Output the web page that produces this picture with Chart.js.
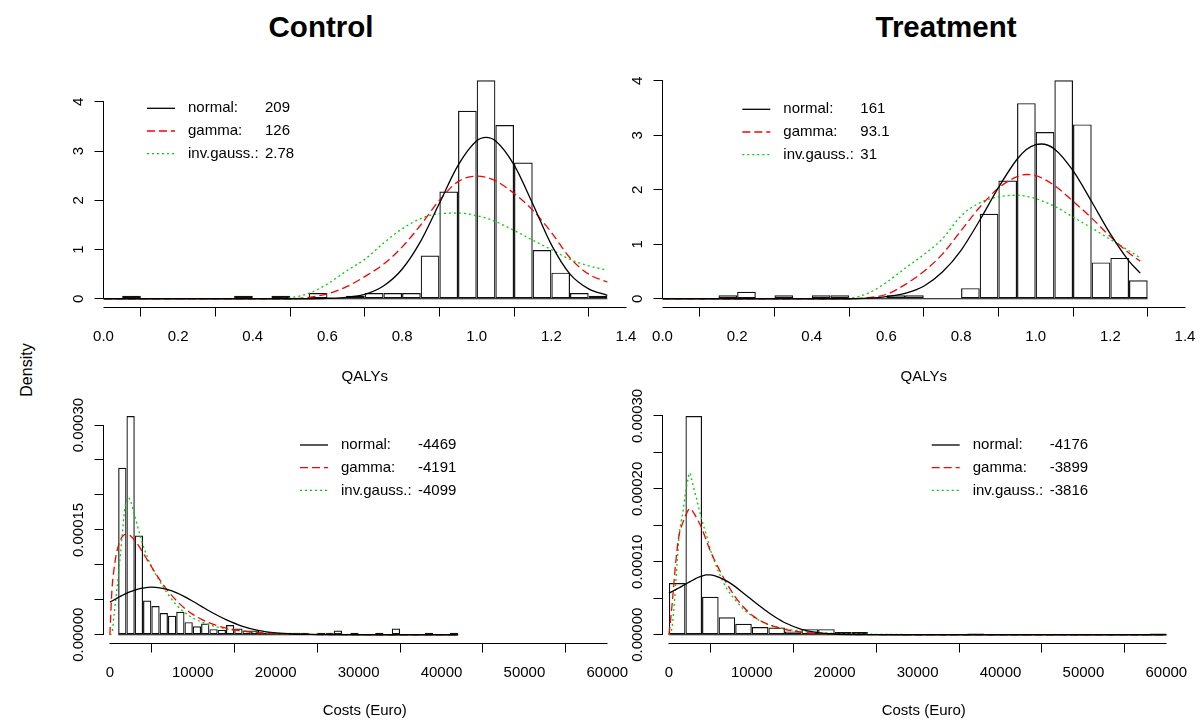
<!DOCTYPE html>
<html>
<head>
<meta charset="utf-8">
<title>QALYs and costs: Control vs Treatment</title>
<script src="https://cdn.jsdelivr.net/npm/chart.js@4.4.1/dist/chart.umd.min.js"></script>
<style>
  html, body { margin: 0; padding: 0; background: #fff; overflow: hidden; }
  #page { position: relative; width: 1204px; height: 720px; overflow: hidden; font-family: "Liberation Sans", Arial, sans-serif; color: #000; }
  #page canvas { position: absolute; }
  .col-title { position: absolute; top: 27px; transform: translate(-50%, -50%); font-size: 29.5px; font-weight: bold; white-space: nowrap; }
  #density { position: absolute; left: 27px; top: 370px; transform: translate(-50%, -50%) rotate(-90deg); font-size: 16px; white-space: nowrap; }
</style>
</head>
<body>
<div id="page">
  <div class="col-title" style="left:321px">Control</div>
  <div class="col-title" style="left:946px">Treatment</div>
  <div id="density">Density</div>
  <canvas id="ctrlQaly" width="700" height="392" style="left:0;top:0"></canvas>
  <canvas id="trtQaly" width="700" height="392" style="left:559px;top:0"></canvas>
  <canvas id="ctrlCost" width="700" height="390" style="left:0;top:330px"></canvas>
  <canvas id="trtCost" width="700" height="390" style="left:559px;top:330px"></canvas>
</div>
<script>
// axis ticks
const qalyTicks = [0, 0.2, 0.4, 0.6, 0.8, 1.0, 1.2, 1.4];
const qalyTickLabels = ['0.0', '0.2', '0.4', '0.6', '0.8', '1.0', '1.2', '1.4'];
const costTicks = [0, 10000, 20000, 30000, 40000, 50000, 60000];
const costTickLabels = ['0', '10000', '20000', '30000', '40000', '50000', '60000'];
const qalyDensTicks = [0, 1, 2, 3, 4];
const qalyDensLabels = ['0', '1', '2', '3', '4'];
const costDensTicks = [0, 0.00005, 0.0001, 0.00015, 0.0002, 0.00025, 0.0003];
const ctrlCostDensLabels = ['0.00000', '', '', '0.00015', '', '', '0.00030'];
const trtCostDensLabels = ['0.00000', '', '0.00010', '', '0.00020', '', '0.00030'];

// legend
const fitNames = ['normal:', 'gamma:', 'inv.gauss.:'];
const ctrlQalyFit = ['209', '126', '2.78'];
const trtQalyFit = ['161', '93.1', '31'];
const ctrlCostFit = ['-4469', '-4191', '-4099'];
const trtCostFit = ['-4176', '-3899', '-3816'];

// Control QALYs: histogram (left edge of each 0.05 bin) and fitted curves
const ctrlQalyBins = [0.00, 0.05, 0.10, 0.15, 0.20, 0.25, 0.30, 0.35, 0.40, 0.45, 0.50, 0.55, 0.60, 0.65,
  0.70, 0.75, 0.80, 0.85, 0.90, 0.95, 1.00, 1.05, 1.10, 1.15, 1.20, 1.25, 1.30];
const ctrlQalyDens = [0, 0.059, 0, 0, 0, 0, 0, 0.059, 0, 0.059, 0, 0.118, 0, 0.059,
  0.118, 0.118, 0.118, 0.88, 2.18, 3.82, 4.44, 3.53, 2.77, 0.99, 0.53, 0.118, 0.059];
const ctrlQalyX = [0, 0.05, 0.1, 0.15, 0.2, 0.25, 0.3, 0.35, 0.4, 0.45, 0.5, 0.55, 0.6, 0.65, 0.7, 0.75,
  0.8, 0.85, 0.9, 0.95, 1.0, 1.025, 1.05, 1.1, 1.15, 1.2, 1.25, 1.3, 1.35];
const ctrlQalyNormal = [0, 0, 0, 0, 0, 0, 0, 0, 0, 0, 0, 0, 0.01, 0.03, 0.09, 0.26,
  0.6, 1.17, 1.94, 2.71, 3.21, 3.28, 3.21, 2.72, 1.93, 1.1, 0.5, 0.2, 0.07];
const ctrlQalyGamma = [0, 0, 0, 0, 0, 0, 0, 0, 0, 0, 0, 0.03, 0.1, 0.24, 0.45, 0.7,
  1.05, 1.5, 2.0, 2.38, 2.49, 2.47, 2.4, 2.14, 1.8, 1.35, 0.83, 0.5, 0.34];
const ctrlQalyInvGauss = [0, 0, 0, 0, 0, 0, 0, 0, 0, 0, 0.02, 0.11, 0.3, 0.56, 0.8, 1.13,
  1.42, 1.63, 1.73, 1.74, 1.69, 1.64, 1.57, 1.39, 1.19, 1.0, 0.8, 0.67, 0.58];

// Treatment QALYs
const trtQalyBins = [0.00, 0.05, 0.10, 0.15, 0.20, 0.25, 0.30, 0.35, 0.40, 0.45, 0.50, 0.55, 0.60,
  0.65, 0.70, 0.75, 0.80, 0.85, 0.90, 0.95, 1.00, 1.05, 1.10, 1.15, 1.20, 1.25];
const trtQalyDens = [0, 0, 0, 0.065, 0.13, 0, 0.065, 0, 0.065, 0.065, 0, 0, 0.065,
  0.065, 0, 0, 0.195, 1.56, 2.17, 3.59, 3.06, 4.01, 3.2, 0.667, 0.75, 0.34];
const trtQalyX = [0, 0.05, 0.1, 0.15, 0.2, 0.25, 0.3, 0.35, 0.4, 0.45, 0.5, 0.55, 0.6, 0.65, 0.7, 0.75,
  0.8, 0.85, 0.9, 0.95, 0.975, 1.0, 1.015, 1.05, 1.1, 1.15, 1.2, 1.25, 1.28];
const trtQalyNormal = [0, 0, 0, 0, 0, 0, 0, 0, 0, 0, 0, 0.01, 0.04, 0.1, 0.23, 0.49,
  0.89, 1.44, 2.04, 2.56, 2.74, 2.83, 2.84, 2.75, 2.35, 1.78, 1.19, 0.69, 0.47];
const trtQalyGamma = [0, 0, 0, 0, 0, 0, 0, 0, 0, 0, 0, 0.02, 0.08, 0.26, 0.5, 0.82,
  1.25, 1.68, 2.03, 2.24, 2.28, 2.26, 2.22, 2.08, 1.79, 1.48, 1.14, 0.84, 0.69];
const trtQalyInvGauss = [0, 0, 0, 0, 0, 0, 0, 0, 0, 0, 0.01, 0.1, 0.3, 0.56, 0.81, 1.1,
  1.52, 1.76, 1.87, 1.9, 1.88, 1.84, 1.8, 1.7, 1.5, 1.3, 1.09, 0.88, 0.75];

// Control costs: 1000-euro bins
const ctrlCostBins = [1000, 2000, 3000, 4000, 5000, 6000, 7000, 8000, 9000, 10000, 11000, 12000, 13000, 14000,
  15000, 16000, 17000, 18000, 19000, 20000, 21000, 22000, 23000, 24000, 25000, 26000, 27000, 28000,
  29000, 30000, 31000, 32000, 33000, 34000, 35000, 36000, 37000, 38000, 39000, 40000, 41000];
const ctrlCostDens = [239e-6, 313e-6, 142e-6, 49e-6, 41e-6, 31e-6, 27e-6, 33e-6, 18e-6, 12e-6, 16e-6, 8e-6, 7e-6, 14e-6,
  9e-6, 6e-6, 6e-6, 3e-6, 3e-6, 3e-6, 3e-6, 3e-6, 3e-6, 0, 3e-6, 3e-6, 6e-6, 0,
  3e-6, 0, 0, 3e-6, 0, 9e-6, 0, 0, 0, 3e-6, 0, 0, 3e-6];
const ctrlCostX = [0, 250, 500, 750, 1000, 1250, 1500, 1750, 2000, 2250, 2500, 3000, 3500, 4000,
  5000, 6000, 7000, 8000, 9000, 10000, 11000, 12000, 13000, 14000, 16000, 18000, 20000, 22000,
  24000, 26000, 30000, 36000, 42000];
const ctrlCostNormal = [46.6e-6, 48.3e-6, 49.9e-6, 51.5e-6, 53.3e-6, 54.8e-6, 56.3e-6, 57.8e-6, 59.2e-6, 60.5e-6, 61.7e-6, 63.8e-6, 65.6e-6, 66.8e-6,
  68e-6, 67.2e-6, 64.5e-6, 60.2e-6, 54.5e-6, 48e-6, 41e-6, 34e-6, 27.5e-6, 21.6e-6, 12.1e-6, 6e-6, 2.7e-6, 1.1e-6,
  0.4e-6, 0.1e-6, 0, 0, 0];
const ctrlCostGamma = [0, 64.5e-6, 94e-6, 113.5e-6, 126.5e-6, 135e-6, 140.4e-6, 143e-6, 144e-6, 143.2e-6, 141.4e-6, 135e-6, 126.7e-6, 117e-6,
  97.6e-6, 79e-6, 62.7e-6, 49.2e-6, 38e-6, 29.2e-6, 22.3e-6, 17e-6, 12.8e-6, 9.6e-6, 5.4e-6, 3e-6, 1.7e-6, 0.9e-6,
  0.5e-6, 0.25e-6, 0.06e-6, 0, 0];
const ctrlCostInvGauss = [0, 3e-6, 28e-6, 55e-6, 82e-6, 112e-6, 145e-6, 176e-6, 192e-6, 196e-6, 191e-6, 170e-6, 148e-6, 128e-6,
  98e-6, 77e-6, 58e-6, 43e-6, 32e-6, 24e-6, 18.5e-6, 14e-6, 11e-6, 8.5e-6, 5e-6, 3e-6, 1.8e-6, 1.1e-6,
  0.7e-6, 0.5e-6, 0.25e-6, 0.1e-6, 0.05e-6];

// Treatment costs: 2000-euro bins
const trtCostBins = [0, 2000, 4000, 6000, 8000, 10000, 12000, 14000, 16000, 18000, 20000, 22000, 24000, 26000, 28000,
  30000, 32000, 34000, 36000, 38000, 40000, 42000, 44000, 46000, 48000, 50000, 52000, 54000, 56000, 58000];
const trtCostDens = [71e-6, 300e-6, 52e-6, 24e-6, 15e-6, 10.5e-6, 10e-6, 4.6e-6, 7.7e-6, 7.7e-6, 3.6e-6, 3.6e-6, 0, 0, 0,
  0, 0, 0, 1.85e-6, 0, 0, 0, 0, 0, 0, 0, 0, 0, 0, 1.85e-6];
const trtCostX = [0, 250, 500, 750, 1000, 1250, 1500, 1750, 2000, 2250, 2500, 2750, 3000, 3500, 4000, 4500,
  5000, 6000, 7000, 8000, 9000, 10000, 11000, 12000, 13000, 14000, 16000, 18000, 20000, 22000,
  24000, 26000, 30000, 40000, 50000, 60000];
const trtCostNormal = [57e-6, 58.5e-6, 60e-6, 61.5e-6, 63e-6, 64.5e-6, 66e-6, 67.8e-6, 69.5e-6, 71e-6, 72.5e-6, 74e-6, 75.5e-6, 78.5e-6, 80.5e-6, 82e-6,
  82e-6, 79e-6, 73.5e-6, 66e-6, 57e-6, 48e-6, 39e-6, 30.5e-6, 23e-6, 16.5e-6, 7.5e-6, 3e-6, 1e-6, 0.3e-6,
  0.1e-6, 0, 0, 0, 0, 0];
const trtCostGamma = [0, 25e-6, 56e-6, 90e-6, 118e-6, 138e-6, 148e-6, 156e-6, 163e-6, 169e-6, 173e-6, 171e-6, 167e-6, 157e-6, 145e-6, 130e-6,
  115e-6, 91e-6, 70e-6, 52e-6, 38e-6, 27e-6, 19.5e-6, 14e-6, 10.5e-6, 7.5e-6, 3.5e-6, 1.7e-6, 0.8e-6, 0.4e-6,
  0.2e-6, 0.1e-6, 0, 0, 0, 0];
const trtCostInvGauss = [0, 3e-6, 22e-6, 58e-6, 100e-6, 138e-6, 156e-6, 173e-6, 194e-6, 210e-6, 222e-6, 213e-6, 201e-6, 179e-6, 156e-6, 138e-6,
  117e-6, 86e-6, 63e-6, 48e-6, 35e-6, 26e-6, 19e-6, 14e-6, 10.5e-6, 8e-6, 5e-6, 3e-6, 1.8e-6, 1.2e-6,
  0.8e-6, 0.5e-6, 0.2e-6, 0, 0, 0];

Chart.defaults.font.family = '"Liberation Sans", Arial, sans-serif';
Chart.defaults.font.size = 15;
Chart.defaults.color = '#000';

const FONT = '15px "Liberation Sans", Arial, sans-serif';

function crisp(v) {
  return Math.round(v - 0.5) + 0.5;
}

// R draws its axis lines only from the first to the last tick, and the y tick labels turned
// parallel to the axis; the fit legend sits inside the plot region
function rDecor(p) {
  return {
    id: 'rDecor',
    afterDraw(chart) {
      const { ctx, chartArea: area, scales: { x, y } } = chart;
      ctx.save();
      ctx.strokeStyle = '#000';
      ctx.lineWidth = 1;
      ctx.beginPath();
      const ax = crisp(area.bottom);
      ctx.moveTo(crisp(x.getPixelForValue(x.ticks[0].value)), ax);
      ctx.lineTo(crisp(x.getPixelForValue(x.ticks[x.ticks.length - 1].value)), ax);
      const ay = crisp(area.left);
      ctx.moveTo(ay, crisp(y.getPixelForValue(y.ticks[0].value)));
      ctx.lineTo(ay, crisp(y.getPixelForValue(y.ticks[y.ticks.length - 1].value)));
      ctx.stroke();

      ctx.fillStyle = '#000';
      ctx.font = FONT;
      ctx.textAlign = 'center';
      ctx.textBaseline = 'middle';
      y.ticks.forEach((t, i) => {
        const text = p.yLabels[i];
        if (!text) return;
        ctx.save();
        ctx.translate(area.left - 25, y.getPixelForValue(t.value));
        ctx.rotate(-Math.PI / 2);
        ctx.fillText(text, 0, 0);
        ctx.restore();
      });

      // legend
      ctx.textAlign = 'left';
      for (let i = 0; i < 3; i++) {
        const ds = chart.data.datasets[i];
        const ly = p.legendY + i * 22.7;
        ctx.strokeStyle = ds.borderColor;
        ctx.lineWidth = ds.borderWidth;
        ctx.setLineDash(ds.borderDash);
        ctx.beginPath();
        ctx.moveTo(p.legendX, ly);
        ctx.lineTo(p.legendX + 28, ly);
        ctx.stroke();
        ctx.setLineDash([]);
        ctx.fillText(fitNames[i], p.legendX + 41, ly);
        ctx.fillText(p.fit[i], p.legendX + 118, ly);
      }
      ctx.restore();
    }
  };
}

function drawPanel(canvasId, p) {
  const ymax = Math.max(...p.dens);
  const half = p.binWidth / 2;
  const curve = (ys, color, dash) => ({
    type: 'line',
    data: p.curveX.map((x, i) => ({ x, y: ys[i] })),
    borderColor: color,
    borderWidth: 1.3,
    borderDash: dash,
    pointRadius: 0,
    cubicInterpolationMode: 'monotone',
    fill: false,
    order: 0
  });
  const lastEdge = p.bins[p.bins.length - 1] + p.binWidth;

  return new Chart(document.getElementById(canvasId), {
    type: 'bar',
    data: {
      datasets: [
        curve(p.normal, '#000000', []),
        curve(p.gamma, '#ff0000', [8, 4]),
        curve(p.invGauss, '#00d000', [2, 3]),
        {
          type: 'bar',
          data: p.bins.map((b, i) => ({ x: b + half, y: p.dens[i] })),
          backgroundColor: 'rgba(0,0,0,0)',
          borderColor: '#111',
          borderWidth: 1.2,
          borderSkipped: false,
          barPercentage: 1,
          categoryPercentage: 1,
          grouped: false,
          inflateAmount: 0,
          order: 1
        },
        {
          type: 'line',
          data: [{ x: p.bins[0], y: 0 }, { x: lastEdge, y: 0 }],
          borderColor: '#000',
          borderWidth: 1,
          pointRadius: 0,
          order: 1
        }
      ]
    },
    options: {
      responsive: false,
      animation: false,
      devicePixelRatio: 1,
      events: [],
      layout: { padding: { top: p.areaTop, right: 700 - 626, bottom: 0, left: 0 } },
      plugins: { legend: { display: false }, tooltip: { enabled: false } },
      scales: {
        x: {
          type: 'linear',
          min: p.xMin,
          max: p.xMax,
          offset: false,
          afterBuildTicks: (s) => { s.ticks = p.xTicks.map(v => ({ value: v })); },
          afterFit: (s) => { s.height = p.xAxisHeight; },
          grid: { display: true, drawOnChartArea: false, drawTicks: true, tickLength: 9, color: '#000', lineWidth: 1 },
          border: { display: false },
          ticks: { autoSkip: false, maxRotation: 0, padding: 11, color: '#000', callback: (v, i) => p.xLabels[i] },
          title: { display: true, text: p.xTitle, color: '#000', padding: { top: 0, bottom: p.titlePad } }
        },
        y: {
          type: 'linear',
          min: -0.04 * ymax,
          max: 1.04 * ymax,
          afterBuildTicks: (s) => { s.ticks = p.yTicks.map(v => ({ value: v })); },
          afterFit: (s) => { s.width = 103.5; },
          grid: { display: true, drawOnChartArea: false, drawTicks: true, tickLength: 9, color: '#000', lineWidth: 1 },
          border: { display: false },
          ticks: { display: false }
        }
      }
    },
    plugins: [rDecor(p)]
  });
}

document.addEventListener('DOMContentLoaded', () => {
  const qalyAxis = { xMin: 0, xMax: 1.4, xTicks: qalyTicks, xLabels: qalyTickLabels, xTitle: 'QALYs',
    yTicks: qalyDensTicks, yLabels: qalyDensLabels, binWidth: 0.05, areaTop: 71.5, xAxisHeight: 84.5, titlePad: 6 };
  const costAxis = { xMin: -770, xMax: 62250, xTicks: costTicks, xLabels: costTickLabels, xTitle: 'Costs (Euro)',
    yTicks: costDensTicks, areaTop: 77.2, xAxisHeight: 76.5, titlePad: 0 };

  drawPanel('ctrlQaly', Object.assign({}, qalyAxis, {
    bins: ctrlQalyBins, dens: ctrlQalyDens, curveX: ctrlQalyX,
    normal: ctrlQalyNormal, gamma: ctrlQalyGamma, invGauss: ctrlQalyInvGauss,
    fit: ctrlQalyFit, legendX: 147, legendY: 108.3
  }));
  drawPanel('trtQaly', Object.assign({}, qalyAxis, {
    bins: trtQalyBins, dens: trtQalyDens, curveX: trtQalyX,
    normal: trtQalyNormal, gamma: trtQalyGamma, invGauss: trtQalyInvGauss,
    fit: trtQalyFit, legendX: 183.3, legendY: 109.3
  }));
  drawPanel('ctrlCost', Object.assign({}, costAxis, {
    binWidth: 1000, yLabels: ctrlCostDensLabels,
    bins: ctrlCostBins, dens: ctrlCostDens, curveX: ctrlCostX,
    normal: ctrlCostNormal, gamma: ctrlCostGamma, invGauss: ctrlCostInvGauss,
    fit: ctrlCostFit, legendX: 300, legendY: 115
  }));
  drawPanel('trtCost', Object.assign({}, costAxis, {
    binWidth: 2000, yLabels: trtCostDensLabels,
    bins: trtCostBins, dens: trtCostDens, curveX: trtCostX,
    normal: trtCostNormal, gamma: trtCostGamma, invGauss: trtCostInvGauss,
    fit: trtCostFit, legendX: 372.7, legendY: 115
  }));
});
</script>
</body>
</html>
